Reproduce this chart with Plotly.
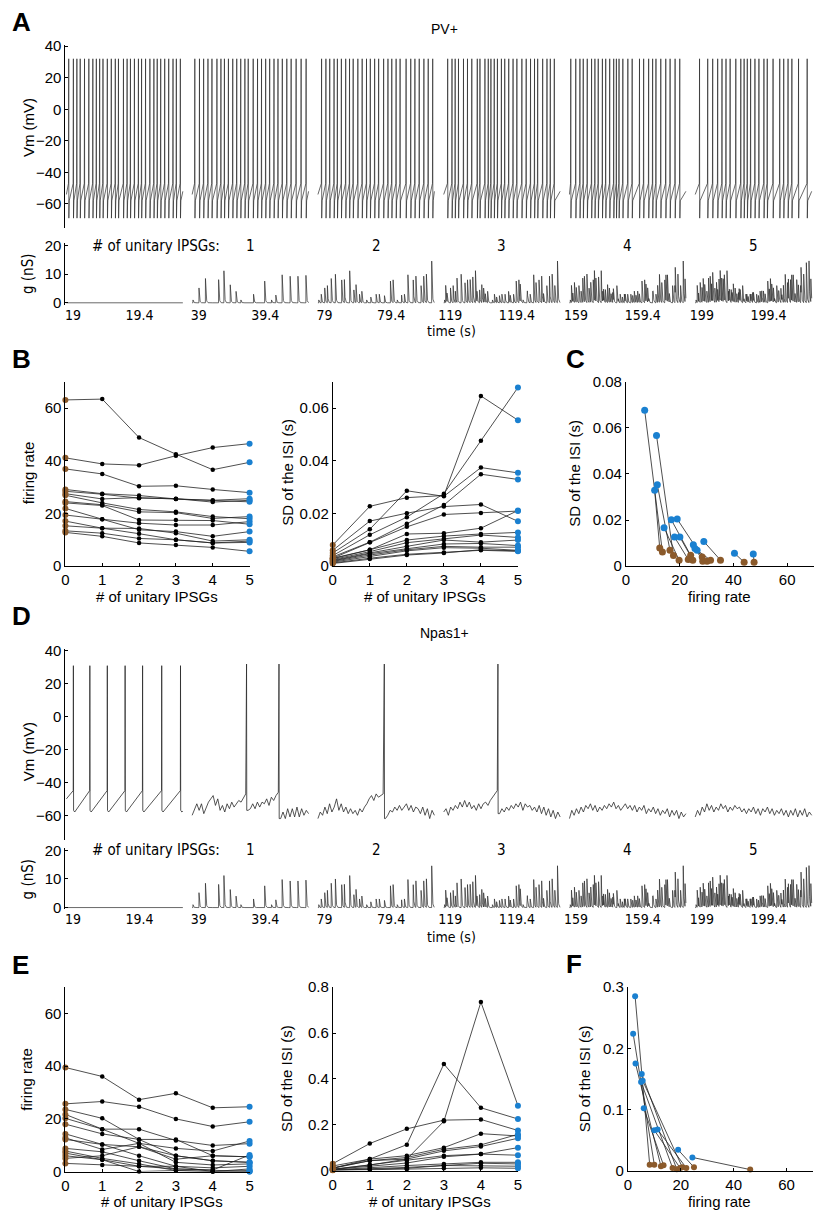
import numpy as np
import plotly.graph_objects as go

W, H = 820, 1219
def px(x): return x / W
def py(y): return 1 - y / H

FONT = "Liberation Sans, Arial, Helvetica, sans-serif"
NARROW = "Liberation Sans Narrow, Arial Narrow, DejaVu Sans Condensed, Liberation Sans, sans-serif"
BROWN = "#8B5A2B"
BLUE = "#1A80D0"
LINE = "#222222"

# ---------------- data ----------------
SEG_START_S = [19, 39, 79, 119, 159, 199]   # tick value at the start of each recorded window
SEG_INPUTS = [0, 1, 2, 3, 4, 5]
SEG_LEN = 0.7
SEG_PERIOD = 0.756
SEG_LEAD = 0.04     # window opens this long before the labelled tick

# PV+ spike times (s, relative to window start)
PV_SPIKES = [
    [0.014, 0.042, 0.063, 0.083, 0.109, 0.135, 0.159, 0.180, 0.200, 0.220, 0.246, 0.270, 0.294, 0.313, 0.343,
     0.365, 0.385, 0.409, 0.433, 0.452, 0.476, 0.502, 0.526, 0.546, 0.567, 0.591, 0.615, 0.641, 0.661, 0.685],
    [0.016, 0.044, 0.069, 0.095, 0.119, 0.149, 0.173, 0.194, 0.218, 0.244, 0.268, 0.292, 0.317, 0.337, 0.367,
     0.393, 0.417, 0.442, 0.466, 0.492, 0.516, 0.542, 0.569, 0.595, 0.625, 0.655, 0.685],
    [0.022, 0.048, 0.071, 0.097, 0.117, 0.141, 0.167, 0.190, 0.212, 0.240, 0.266, 0.292, 0.315, 0.341, 0.365,
     0.395, 0.421, 0.444, 0.470, 0.494, 0.530, 0.558, 0.583, 0.609, 0.637, 0.663, 0.690],
    [0.024, 0.050, 0.069, 0.089, 0.119, 0.143, 0.169, 0.202, 0.218, 0.248, 0.268, 0.284, 0.304, 0.323, 0.347,
     0.367, 0.391, 0.417, 0.440, 0.470, 0.496, 0.522, 0.546, 0.565, 0.595, 0.621, 0.641, 0.665],
    [0.008, 0.038, 0.063, 0.083, 0.107, 0.133, 0.153, 0.173, 0.198, 0.218, 0.242, 0.266, 0.282, 0.298, 0.321,
     0.351, 0.377, 0.421, 0.446, 0.476, 0.500, 0.520, 0.549, 0.579, 0.605, 0.635, 0.663],
    [0.026, 0.075, 0.105, 0.135, 0.161, 0.185, 0.210, 0.244, 0.274, 0.294, 0.313, 0.333, 0.359, 0.383, 0.413,
     0.433, 0.468, 0.508, 0.532, 0.558, 0.581, 0.621, 0.673],
]

# Npas1+ spikes in the no-input segment and sub-threshold traces (step 0.014 s) of the others
NPAS_SEG1_SPIKES = [0.042, 0.141, 0.246, 0.353, 0.458, 0.573, 0.686]
NPAS_SPIKES = [[], [0.327, 0.522], [0.399], [0.326], [], []]
NPAS_STEP = 0.014
NPAS_VM = [
    None,
    [-60, -56, -53, -57, -53, -59, -55, -52, -50, -48, -54, -50, -57, -54, -58, -53, -56, -52, -55, -53, -51,
     -52, -49, -47, -57, -56, -53, -56, -52, -55, -52, -53, -50, -54, -49, -51, -48, -46, -62, -58, -62, -56,
     -61, -56, -61, -55, -61, -56, -60, -57, -59],
    [-62, -58, -60, -55, -59, -53, -58, -55, -50, -57, -53, -58, -55, -59, -56, -59, -57, -60, -56, -58, -55,
     -53, -50, -48, -51, -47, -49, -48, -47, -62, -60, -57, -58, -55, -57, -54, -57, -55, -53, -57, -54, -58,
     -55, -56, -59, -55, -60, -56, -62, -57, -60],
    [-58, -56, -60, -55, -57, -54, -56, -52, -55, -51, -55, -52, -56, -54, -57, -53, -56, -53, -52, -54, -51,
     -49, -47, -45, -59, -56, -58, -55, -57, -54, -56, -53, -55, -52, -57, -53, -55, -54, -57, -55, -58, -54,
     -59, -55, -60, -56, -61, -57, -62, -58, -61],
    [-62, -57, -60, -56, -59, -55, -58, -54, -56, -53, -57, -54, -58, -55, -57, -54, -56, -53, -55, -52, -56,
     -54, -57, -55, -53, -56, -54, -57, -54, -58, -55, -57, -54, -59, -56, -58, -55, -59, -56, -60, -57, -59,
     -56, -61, -57, -60, -57, -62, -58, -61, -59],
    [-61, -57, -60, -55, -58, -53, -57, -54, -58, -55, -57, -53, -56, -54, -58, -55, -57, -54, -56, -55, -58,
     -56, -59, -56, -58, -55, -59, -56, -60, -56, -58, -55, -59, -56, -60, -57, -59, -56, -60, -57, -61, -57,
     -60, -56, -61, -57, -60, -56, -61, -58, -60],
]

# unitary IPSG trains (event time s, peak conductance nS); segment k carries trains 1..k
TRAIN_T = [
    [0.005, 0.041, 0.080, 0.159, 0.191, 0.229, 0.264, 0.293, 0.369, 0.436, 0.477, 0.503, 0.541, 0.589, 0.636, 0.684],
    [0.020, 0.057, 0.105, 0.143, 0.216, 0.250, 0.318, 0.350, 0.400, 0.452, 0.520, 0.573, 0.620, 0.652, 0.684],
    [0.012, 0.070, 0.128, 0.175, 0.200, 0.240, 0.305, 0.335, 0.390, 0.420, 0.460, 0.500, 0.555, 0.600, 0.668],
    [0.030, 0.090, 0.118, 0.150, 0.205, 0.260, 0.285, 0.330, 0.380, 0.410, 0.470, 0.530, 0.580, 0.634, 0.695],
    [0.048, 0.098, 0.135, 0.168, 0.222, 0.270, 0.310, 0.345, 0.398, 0.445, 0.490, 0.515, 0.560, 0.610, 0.668],
]
TRAIN_A = [
    [1.0, 5.2, 8.5, 8.1, 11.2, 6.3, 4.0, 1.0, 3.0, 7.6, 1.0, 2.7, 9.8, 9.3, 9.3, 9.6],
    [3.0, 6.0, 10.0, 8.0, 4.5, 3.0, 2.0, 3.0, 2.5, 8.0, 3.0, 8.0, 6.0, 10.0, 5.0],
    [6.0, 4.0, 7.0, 9.0, 3.5, 5.0, 3.0, 2.5, 4.0, 3.0, 6.0, 4.0, 7.0, 3.0, 6.0],
    [7.0, 9.0, 5.0, 10.5, 4.0, 3.5, 6.0, 3.0, 2.5, 4.0, 5.0, 6.0, 9.0, 6.0, 8.0],
    [8.0, 6.0, 4.0, 8.0, 3.0, 4.0, 2.5, 3.5, 3.0, 4.5, 6.0, 5.0, 7.0, 8.0, 8.0],
]
G_TAU = 0.003

N_IPSG = [0, 1, 2, 3, 4, 5]
# B: PV+ firing rate and SD of ISI vs # of unitary IPSGs
B_RATE = [
    [63.1, 63.4, 48.8, 42.5, 36.6, 39.4],
    [41.1, 38.8, 38.3, 41.9, 45.0, 46.5],
    [36.9, 35.0, 30.3, 30.5, 29.1, 27.9],
    [29.1, 27.5, 26.8, 25.5, 25.0, 25.6],
    [28.4, 27.3, 25.8, 25.6, 24.3, 25.0],
    [27.5, 25.5, 26.0, 25.5, 24.8, 24.4],
    [26.9, 24.0, 21.5, 20.6, 18.8, 18.0],
    [24.5, 23.3, 20.6, 20.3, 18.1, 18.8],
    [24.0, 23.0, 17.5, 17.5, 17.3, 15.9],
    [21.9, 17.8, 16.3, 15.6, 15.6, 16.9],
    [19.4, 17.8, 13.8, 13.1, 11.3, 13.1],
    [17.1, 14.4, 14.3, 12.5, 9.5, 10.0],
    [15.3, 14.4, 12.3, 10.0, 8.8, 9.5],
    [13.4, 12.5, 10.5, 10.0, 8.8, 9.0],
    [12.8, 11.3, 8.8, 8.0, 7.1, 5.6],
]
B_SD = [
    [0.0080, 0.0227, 0.0260, 0.0268, 0.0646, 0.0554],
    [0.0060, 0.0171, 0.0201, 0.0226, 0.0234, 0.0170],
    [0.0050, 0.0140, 0.0286, 0.0265, 0.0374, 0.0354],
    [0.0040, 0.0119, 0.0186, 0.0275, 0.0476, 0.0678],
    [0.0035, 0.0091, 0.0161, 0.0232, 0.0349, 0.0329],
    [0.0030, 0.0091, 0.0149, 0.0196, 0.0202, 0.0209],
    [0.0030, 0.0062, 0.0122, 0.0125, 0.0144, 0.0211],
    [0.0028, 0.0062, 0.0099, 0.0114, 0.0122, 0.0128],
    [0.0025, 0.0055, 0.0089, 0.0104, 0.0118, 0.0109],
    [0.0022, 0.0050, 0.0075, 0.0099, 0.0091, 0.0099],
    [0.0020, 0.0047, 0.0066, 0.0084, 0.0086, 0.0078],
    [0.0018, 0.0042, 0.0062, 0.0075, 0.0072, 0.0072],
    [0.0015, 0.0037, 0.0058, 0.0070, 0.0068, 0.0060],
    [0.0012, 0.0030, 0.0045, 0.0052, 0.0060, 0.0056],
    [0.0010, 0.0027, 0.0042, 0.0050, 0.0062, 0.0058],
]
# C: SD of ISI vs firing rate, 5 IPSGs (blue) -> 0 IPSGs (brown)
C_RATE_5 = [7.0, 11.4, 11.7, 10.7, 14.2, 16.9, 19.1, 18.1, 20.1, 25.1, 25.7, 26.5, 29.0, 40.4, 47.4]
C_SD_5 = [0.0676, 0.0567, 0.0353, 0.0329, 0.0167, 0.0201, 0.0204, 0.0126, 0.0126, 0.0093, 0.0076, 0.0069,
          0.0107, 0.0056, 0.0053]
C_RATE_0 = [13.6, 17.7, 16.4, 12.6, 19.8, 24.1, 28.4, 23.2, 24.9, 28.6, 30.2, 31.5, 35.2, 44.0, 47.7]
C_SD_0 = [0.0061, 0.0046, 0.0069, 0.0079, 0.0026, 0.0047, 0.0040, 0.0029, 0.0026, 0.0021, 0.0021, 0.0026,
          0.0026, 0.0017, 0.0017]
# E: Npas1+
E_RATE = [
    [39.5, 36.1, 27.3, 29.7, 24.2, 24.6],
    [25.7, 26.6, 24.6, 20.0, 17.1, 18.9],
    [23.6, 20.2, 12.2, 12.2, 6.0, 5.6],
    [21.7, 16.1, 16.1, 11.8, 9.9, 10.6],
    [20.2, 16.1, 10.7, 8.8, 7.8, 11.6],
    [18.0, 14.3, 12.2, 6.0, 4.1, 3.5],
    [14.3, 10.3, 9.4, 4.7, 6.0, 5.6],
    [12.8, 8.4, 10.7, 3.5, 2.5, 2.9],
    [12.2, 10.3, 6.0, 2.0, 1.4, 2.0],
    [8.8, 7.5, 4.1, 1.0, 0.6, 6.3],
    [7.8, 5.0, 2.9, 0.4, 0.0, 1.0],
    [7.0, 4.5, 2.0, 2.0, 0.0, 0.4],
    [6.0, 4.5, 0.0, 0.4, 0.0, 0.0],
    [5.0, 6.0, 9.4, 6.0, 4.1, 3.5],
    [3.1, 2.5, 2.0, 1.0, 0.6, 0.0],
]
E_SD = [
    [0.030, 0.118, 0.182, 0.220, 0.223, 0.175],
    [0.020, 0.050, 0.113, 0.465, 0.274, 0.225],
    [0.012, 0.043, 0.050, 0.215, 0.735, 0.283],
    [0.010, 0.050, 0.065, 0.100, 0.161, 0.151],
    [0.010, 0.043, 0.057, 0.093, 0.112, 0.158],
    [0.006, 0.024, 0.050, 0.086, 0.105, 0.141],
    [0.005, 0.024, 0.043, 0.065, 0.072, 0.100],
    [0.005, 0.019, 0.033, 0.060, 0.072, 0.067],
    [0.003, 0.013, 0.022, 0.029, 0.036, 0.036],
    [0.002, 0.007, 0.014, 0.022, 0.032, 0.029],
    [0.002, 0.007, 0.010, 0.022, 0.022, 0.019],
    [0.001, 0.004, 0.006, 0.010, 0.012, 0.010],
]
F_RATE_5 = [2.75, 2.0, 2.9, 5.25, 5.0, 5.6, 6.0, 10.0, 11.25, 19.0, 24.4]
F_SD_5 = [0.285, 0.224, 0.175, 0.158, 0.145, 0.147, 0.102, 0.066, 0.067, 0.034, 0.0215]
F_RATE_0 = [8.25, 10.0, 12.5, 18.5, 16.9, 20.6, 13.5, 19.75, 22.1, 25.0, 46.25]
F_SD_0 = [0.0097, 0.0097, 0.007, 0.0022, 0.0043, 0.0054, 0.0086, 0.0043, 0.0043, 0.0054, 0.0016]

# ---------------- figure ----------------
fig = go.Figure()
layout = dict(width=W, height=H, margin=dict(l=0, r=0, t=0, b=0), plot_bgcolor="white",
              paper_bgcolor="white", showlegend=False, font=dict(family=FONT, color="black", size=14))
annotations = []


def ax(i):
    return ("x" if i == 1 else f"x{i}"), ("y" if i == 1 else f"y{i}")


def add(i, x, y, **kw):
    xa, ya = ax(i)
    fig.add_trace(go.Scatter(x=x, y=y, xaxis=xa, yaxis=ya, hoverinfo="skip", **kw))


def seg_x(k, t):
    return k * SEG_PERIOD + t


def set_axes(i, xd, yd, xr, yr, xt=None, yt=None, xtt=None, ytt=None, fs=15, xshow=True, xline=True,
             xfont=FONT, xfs=None):
    xa, ya = ax(i)
    xk = "xaxis" if i == 1 else f"xaxis{i}"
    yk = "yaxis" if i == 1 else f"yaxis{i}"
    layout[xk] = dict(domain=[px(xd[0]), px(xd[1])], range=xr, anchor=ya, showgrid=False, zeroline=False,
                      showline=xline, linecolor="black", linewidth=1, ticks="inside" if xline else "",
                      ticklen=3, tickcolor="black", tickvals=xt, ticktext=xtt, visible=xshow,
                      tickfont=dict(family=xfont, size=xfs or fs, color="black"), fixedrange=True)
    layout[yk] = dict(domain=[py(yd[0]), py(yd[1])], range=yr, anchor=xa, showgrid=False, zeroline=False,
                      showline=True, linecolor="black", linewidth=1, ticks="inside", ticklen=3,
                      tickcolor="black", tickvals=yt, ticktext=ytt,
                      tickfont=dict(family=FONT, size=fs, color="black"), fixedrange=True)


def text(x, y, s, size=14, angle=0, family=FONT, xanchor="center", bold=False):
    annotations.append(dict(x=px(x), y=py(y), xref="paper", yref="paper", text=f"<b>{s}</b>" if bold else s,
                            showarrow=False, textangle=angle, xanchor=xanchor, yanchor="middle",
                            font=dict(family=family, size=size, color="black")))


def g_trace():
    xs, ys = [], []
    for k in range(6):
        t = np.round(np.arange(0, SEG_LEN + 1e-9, 0.0005), 4)
        g = np.zeros_like(t)
        for j in range(SEG_INPUTS[k]):
            for ti, ai in zip(TRAIN_T[j], TRAIN_A[j]):
                d = t - ti
                m = d >= -1e-9
                g[m] += ai * np.exp(-np.clip(d[m], 0, None) / G_TAU)
        xs += list(seg_x(k, t)) + [None]
        ys += list(g) + [None]
    return xs, ys


def pv_trace():
    xs, ys = [], []
    for k, spikes in enumerate(PV_SPIKES):
        t, v = [0.0], [-54.0]
        for ts in spikes:
            t += [ts - 0.0015, ts, ts + 0.0008, ts + 0.003]
            v += [-47.0, 32.0, -69.0, -58.0]
        t.append(SEG_LEN)
        v.append(-52.0)
        xs += [seg_x(k, tt) for tt in t] + [None]
        ys += v + [None]
    return xs, ys


def npas_trace():
    xs, ys = [], []
    t, v = [0.0], [-50.0]
    for ts in NPAS_SEG1_SPIKES:
        t += [ts - 0.001, ts, ts + 0.0012, ts + 0.008]
        v += [-45.0, 31.0, -57.0, -58.0]
    t.append(SEG_LEN)
    v.append(-57.5)
    xs += [seg_x(0, tt) for tt in t] + [None]
    ys += v + [None]
    for k in range(1, 6):
        vals = NPAS_VM[k]
        pts = [(i * NPAS_STEP, float(val)) for i, val in enumerate(vals)]
        for ts in NPAS_SPIKES[k]:
            nxt = min((p for p in pts if p[0] > ts), key=lambda p: p[0])
            pts += [(ts, 32.0), (ts + 0.0012, nxt[1])]
        pts.sort(key=lambda p: p[0])
        xs += [seg_x(k, p[0]) for p in pts] + [None]
        ys += [p[1] for p in pts] + [None]
    return xs, ys


def seg_ticks():
    vals, txt = [], []
    for k, s in enumerate(SEG_START_S):
        vals += [seg_x(k, SEG_LEAD), seg_x(k, SEG_LEAD + 0.4)]
        txt += [f"{s:g}", f"{s + 0.4:g}"]
    return vals, txt


def ipsg_plot(i, rows):
    for row in rows:
        add(i, N_IPSG, row, mode="lines", line=dict(color=LINE, width=0.8))
    for row in rows:
        add(i, N_IPSG[1:5], row[1:5], mode="markers", cliponaxis=False,
            marker=dict(color="black", size=4.5, opacity=1, line=dict(width=0)))
    add(i, [0] * len(rows), [r[0] for r in rows], mode="markers", cliponaxis=False,
        marker=dict(color=BROWN, size=6, opacity=1, line=dict(width=0)))
    add(i, [5] * len(rows), [r[5] for r in rows], mode="markers", cliponaxis=False,
        marker=dict(color=BLUE, size=6, opacity=1, line=dict(width=0)))


def pair_plot(i, r5, s5, r0, s0, size):
    for a, b, c, d in zip(r5, s5, r0, s0):
        add(i, [a, c], [b, d], mode="lines", line=dict(color=LINE, width=0.8))
    add(i, r5, s5, mode="markers", cliponaxis=False,
        marker=dict(color=BLUE, size=size, opacity=1, line=dict(width=0)))
    add(i, r0, s0, mode="markers", cliponaxis=False,
        marker=dict(color=BROWN, size=size, opacity=1, line=dict(width=0)))


TRACE_XR = [-0.006, 4.506]
tv, tt = seg_ticks()
TRACE_W = 758


def seg_center_px(k):
    return 62 + (seg_x(k, SEG_LEN / 2) - TRACE_XR[0]) / (TRACE_XR[1] - TRACE_XR[0]) * TRACE_W


# ---------- Panel A ----------
set_axes(1, (62, 820), (221.7, 36.1), TRACE_XR, [-75, 41], yt=[-60, -40, -20, 0, 20, 40], fs=15,
         xshow=False)
x, y = pv_trace()
add(1, x, y, mode="lines", line=dict(color="#2a2a2a", width=0.7))
set_axes(2, (62, 820), (299.7, 237.1), TRACE_XR, [-0.6, 21], xt=tv, xtt=tt, yt=[0, 10, 20], fs=15,
         xline=False, xfont=NARROW, xfs=14)
gx, gy = g_trace()
add(2, gx, gy, mode="lines", line=dict(color="#2a2a2a", width=0.7))

text(6, 13, "A", size=26, xanchor="left", bold=True)
text(445, 20, "PV+", size=14)
text(25, 120, "Vm (mV)", angle=-90, size=15)
text(24, 268, "g (nS)", angle=-90, family=NARROW, size=15)
text(87, 240, "# of unitary IPSGs:", family=NARROW, xanchor="left", size=15)
for k in range(1, 6):
    text(seg_center_px(k), 240, str(SEG_INPUTS[k]), family=NARROW, size=15)
text(452, 327, "time (s)", family=NARROW, size=14)

# ---------- Panel B ----------
set_axes(3, (62, 248), (565, 378), [0, 5], [0, 70], xt=N_IPSG, yt=[0, 20, 40, 60])
set_axes(4, (332, 519), (565, 378), [0, 5], [0, 0.07], xt=N_IPSG, yt=[0, 0.02, 0.04, 0.06],
         ytt=["0", "0.02", "0.04", "0.06"])
ipsg_plot(3, B_RATE)
ipsg_plot(4, B_SD)
text(6, 355, "B", size=26, xanchor="left", bold=True)
text(25, 470, "firing rate", angle=-90, size=15)
text(155, 596, "# of unitary IPSGs", size=15)
text(286, 470, "SD of the ISI (s)", angle=-90, size=15)
text(425, 596, "# of unitary IPSGs", size=15)

# ---------- Panel C ----------
set_axes(5, (628, 818), (565, 378), [0, 70], [0, 0.08], xt=[0, 20, 40, 60], yt=[0, 0.02, 0.04, 0.06, 0.08],
         ytt=["0", "0.02", "0.04", "0.06", "0.08"])
pair_plot(5, C_RATE_5, C_SD_5, C_RATE_0, C_SD_0, 7)
text(566, 355, "C", size=26, xanchor="left", bold=True)
text(576, 471, "SD of the ISI (s)", angle=-90, size=15)
text(723, 596, "firing rate", size=15)

# ---------- Panel D ----------
set_axes(6, (62, 820), (842.7, 649.3), TRACE_XR, [-75, 41], yt=[-60, -40, -20, 0, 20, 40], fs=15,
         xshow=False)
x, y = npas_trace()
add(6, x, y, mode="lines", line=dict(color="#2a2a2a", width=0.8))
set_axes(7, (62, 820), (913, 850.4), TRACE_XR, [-0.6, 21], xt=tv, xtt=tt, yt=[0, 10, 20], fs=15,
         xline=False, xfont=NARROW, xfs=14)
add(7, gx, gy, mode="lines", line=dict(color="#2a2a2a", width=0.7))
text(6, 616, "D", size=26, xanchor="left", bold=True)
text(445, 633, "Npas1+", size=14)
text(25, 753, "Vm (mV)", angle=-90, size=15)
text(24, 882, "g (nS)", angle=-90, family=NARROW, size=15)
text(87, 853, "# of unitary IPSGs:", family=NARROW, xanchor="left", size=15)
for k in range(1, 6):
    text(seg_center_px(k), 853, str(SEG_INPUTS[k]), family=NARROW, size=15)
text(452, 941, "time (s)", family=NARROW, size=14)

# ---------- Panel E ----------
set_axes(8, (62, 248), (1179, 992), [0, 5], [0, 70], xt=N_IPSG, yt=[0, 20, 40, 60], fs=15)
set_axes(9, (332, 519), (1178, 992), [0, 5], [0, 0.8], xt=N_IPSG, yt=[0, 0.2, 0.4, 0.6, 0.8],
         ytt=["0", "0.2", "0.4", "0.6", "0.8"], fs=15)
ipsg_plot(8, E_RATE)
ipsg_plot(9, E_SD)
text(6, 970, "E", size=26, xanchor="left", bold=True)
text(23, 1085, "firing rate", angle=-90, size=15)
text(160, 1209, "# of unitary IPSGs", size=15)
text(286, 1085, "SD of the ISI (s)", angle=-90, size=15)
text(430, 1209, "# of unitary IPSGs", size=15)

# ---------- Panel F ----------
set_axes(10, (630, 817), (1178, 992), [0, 70], [0, 0.3], xt=[0, 20, 40, 60], yt=[0, 0.1, 0.2, 0.3],
         ytt=["0", "0.1", "0.2", "0.3"], fs=15)
pair_plot(10, F_RATE_5, F_SD_5, F_RATE_0, F_SD_0, 6)
text(566, 968, "F", size=26, xanchor="left", bold=True)
text(587, 1085, "SD of the ISI (s)", angle=-90, size=15)
text(723, 1209, "firing rate", size=15)

layout["annotations"] = annotations
fig.update_layout(**layout)
fig.write_html("out.html", config={"displayModeBar": False},
               post_script="document.body.style.margin='0px';document.body.style.overflow='hidden';")
